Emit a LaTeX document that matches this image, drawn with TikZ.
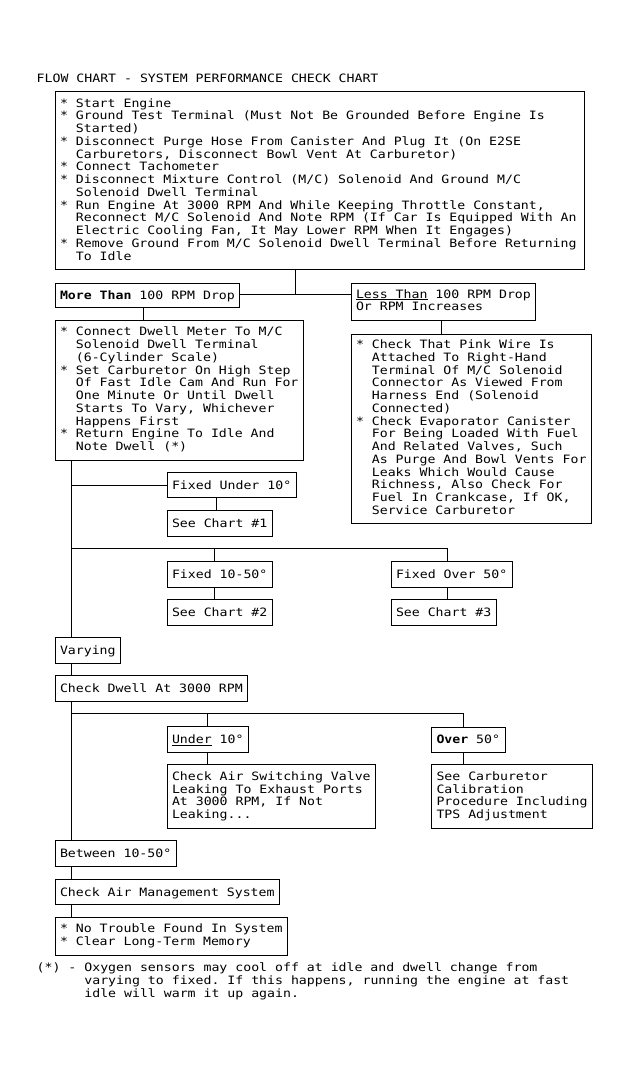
\documentclass[tikz,border=0pt]{standalone}
\usepackage{fontspec}
\newfontfamily\chartmono[FakeStretch=1.148,WordSpace={1,0,0}]{DejaVu Sans Mono}
\newcommand\chartfont{\chartmono\fontsize{11.5pt}{12.75pt}\selectfont\lineskiplimit=-100pt\lineskip=0pt\parindent=0pt\frenchspacing}
\newcommand\fs{\rule{0pt}{8.5pt}}
\newcommand\lst{\rule[-2.6pt]{0pt}{2.6pt}}
\newcommand\ind{\phantom{**}}
\newsavebox\ulbox
\newcommand\ul[1]{\sbox\ulbox{#1}\rlap{\rule[-2pt]{\wd\ulbox}{0.9pt}}\usebox\ulbox}
\tikzset{
  conn/.style={line width=1pt},
  bx/.style={draw, line width=1pt, anchor=north west, inner xsep=5pt, inner ysep=0pt, outer sep=0pt, font=\chartfont},
  multi/.style={bx, align=left},
  single/.style={bx, text height=10pt, text depth=2pt},
}
\begin{document}
\begin{tikzpicture}[x=1pt,y=-1pt]
\useasboundingbox (0,0) rectangle (630,1075);

\node[anchor=base west, inner sep=0pt, font=\chartfont] (title) at (36.5,83) {FLOW CHART - SYSTEM PERFORMANCE CHECK CHART};

\node[multi, minimum height=177pt] (box1) at (55,92) {\makebox[519pt][l]{\fs* Start Engine}\\
* Ground Test Terminal (Must Not Be Grounded Before Engine Is\\
\ind Started)\\
* Disconnect Purge Hose From Canister And Plug It (On E2SE\\
\ind Carburetors, Disconnect Bowl Vent At Carburetor)\\
* Connect Tachometer\\
* Disconnect Mixture Control (M/C) Solenoid And Ground M/C\\
\ind Solenoid Dwell Terminal\\
* Run Engine At 3000 RPM And While Keeping Throttle Constant,\\
\ind Reconnect M/C Solenoid And Note RPM (If Car Is Equipped With An\\
\ind Electric Cooling Fan, It May Lower RPM When It Engages)\\
* Remove Ground From M/C Solenoid Dwell Terminal Before Returning\\
\ind To Idle\lst};

\node[single, minimum height=24pt] (more) at (55,283) {\textbf{More Than} 100 RPM Drop};
\node[multi, minimum height=37pt] (less) at (351,283) {\fs\ul{Less Than} 100 RPM Drop\\Or RPM Increases\lst};

\node[multi, minimum height=139.5pt] (box2) at (55,320.5) {\fs* Connect Dwell Meter To M/C\\
\ind Solenoid Dwell Terminal\\
\ind (6-Cylinder Scale)\\
* Set Carburetor On High Step\\
\ind Of Fast Idle Cam And Run For\\
\ind One Minute Or Until Dwell\\
\ind Starts To Vary, Whichever\\
\ind Happens First\\
* Return Engine To Idle And\\
\ind Note Dwell (*)\lst};

\node[multi, minimum height=189pt] (box3) at (351,334) {\fs* Check That Pink Wire Is\\
\ind Attached To Right-Hand\\
\ind Terminal Of M/C Solenoid\\
\ind Connector As Viewed From\\
\ind Harness End (Solenoid\\
\ind Connected)\\
* Check Evaporator Canister\\
\ind For Being Loaded With Fuel\\
\ind And Related Valves, Such\\
\ind As Purge And Bowl Vents For\\
\ind Leaks Which Would Cause\\
\ind Richness, Also Check For\\
\ind Fuel In Crankcase, If OK,\\
\ind Service Carburetor\lst};

\node[single, minimum height=25pt] (fixedunder) at (167,472.7) {Fixed Under 10°};
\node[single, minimum height=26pt] (see1) at (167,510) {See Chart \#1};
\node[single, minimum height=25.5pt] (fixed1050) at (167,561.5) {Fixed 10-50°};
\node[single, minimum height=26pt] (see2) at (167,599.5) {See Chart \#2};
\node[single, minimum height=25.5pt] (fixedover) at (391,561.5) {Fixed Over 50°};
\node[single, minimum height=26pt] (see3) at (391,599) {See Chart \#3};

\node[single, minimum height=26pt] (varying) at (55,637.3) {Varying};
\node[single, minimum height=25.7pt] (checkdwell) at (55,675.3) {Check Dwell At 3000 RPM};

\node[single, minimum height=25.8pt] (under) at (167,726.7) {\ul{Under} 10°};
\node[multi, minimum height=64pt] (checkairsw) at (167,764.4) {\fs Check Air Switching Valve\\Leaking To Exhaust Ports\\At 3000 RPM, If Not\\Leaking...\lst};
\node[single, minimum height=25.4pt] (over) at (431.5,727) {\textbf{Over} 50°};
\node[multi, minimum height=64pt] (seecarb) at (431.5,764.4) {\fs See Carburetor\\Calibration\\Procedure Including\\TPS Adjustment\lst};

\node[single, minimum height=25.7pt] (between) at (55,840.3) {Between 10-50°};
\node[single, minimum height=25pt] (checkairmgmt) at (55,879.5) {Check Air Management System};
\node[multi, minimum height=37.7pt] (notrouble) at (55,917.3) {\fs* No Trouble Found In System\\* Clear Long-Term Memory\lst};

\node[anchor=north west, inner sep=0pt, align=left, font=\chartfont\fontsize{11.5pt}{13.2pt}\selectfont] (footnote) at (36.5,962.2) {\fs(*) - Oxygen sensors may cool off at idle and dwell change from\\
\phantom{******}varying to fixed. If this happens, running the engine at fast\\
\phantom{******}idle will warm it up again.};

\coordinate (j1) at (295.5,294);
\coordinate (xA) at (143.7,0);
\coordinate (xB) at (441,0);
\coordinate (xT) at (71.5,0);
\coordinate (xC) at (216,0);
\coordinate (xD) at (214,0);
\coordinate (h2) at (447.5,548.3);
\coordinate (xE) at (207.3,0);
\coordinate (h3) at (463.5,713.5);

\draw[conn] (box1.south -| j1) -- (j1);
\draw[conn] (j1 -| more.east) -- (j1 -| less.west);
\draw[conn] (more.south -| xA) -- (box2.north -| xA);
\draw[conn] (less.south -| xB) -- (box3.north -| xB);
\draw[conn] (box2.south -| xT) -- (varying.north -| xT);
\draw[conn] (fixedunder.west -| xT) -- (fixedunder.west);
\draw[conn] (fixedunder.south -| xC) -- (see1.north -| xC);
\draw[conn] (h2 -| xT) -- (h2) -- (fixedover.north -| h2);
\draw[conn] (h2 -| xD) -- (fixed1050.north -| xD);
\draw[conn] (fixed1050.south -| xD) -- (see2.north -| xD);
\draw[conn] (fixedover.south -| h2) -- (see3.north -| h2);
\draw[conn] (varying.south -| xT) -- (checkdwell.north -| xT);
\draw[conn] (checkdwell.south -| xT) -- (between.north -| xT);
\draw[conn] (h3 -| xT) -- (h3) -- (over.north -| h3);
\draw[conn] (h3 -| xE) -- (under.north -| xE);
\draw[conn] (under.south -| xE) -- (checkairsw.north -| xE);
\draw[conn] (over.south -| h3) -- (seecarb.north -| h3);
\draw[conn] (between.south -| xT) -- (checkairmgmt.north -| xT);
\draw[conn] (checkairmgmt.south -| xT) -- (notrouble.north -| xT);
\end{tikzpicture}
\end{document}
